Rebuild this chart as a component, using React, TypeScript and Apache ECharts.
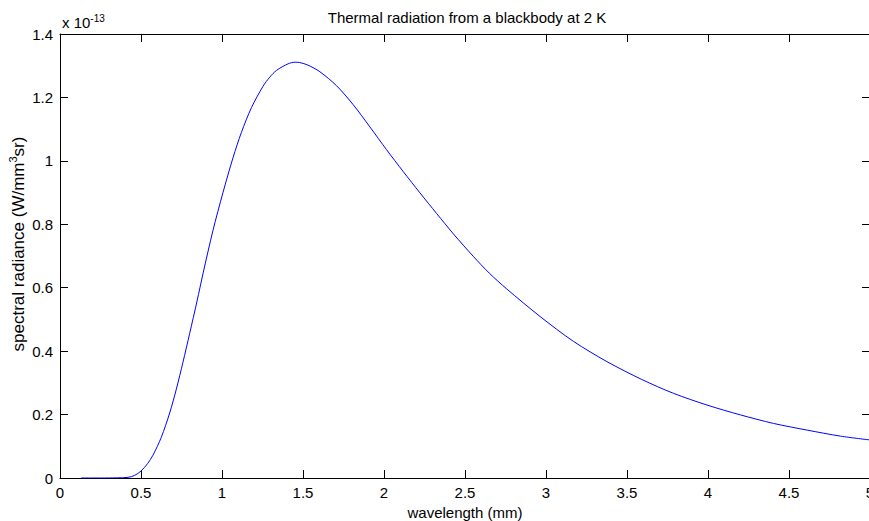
import React, { useEffect, useRef } from "react";
import * as echarts from "echarts";

const wavelengthMm = [
  0.13, 0.25, 0.35, 0.42, 0.46, 0.5, 0.54, 0.574, 0.625, 0.677, 0.718, 0.759,
  0.8, 0.846, 0.883, 0.944, 1.006, 1.068, 1.12, 1.182, 1.253, 1.295, 1.336,
  1.408, 1.45, 1.48, 1.53, 1.604, 1.707, 1.81, 1.913, 2.016, 2.119, 2.222,
  2.325, 2.428, 2.551, 2.65, 2.758, 2.964, 3.169, 3.376, 3.59, 3.787, 3.994,
  4.2, 4.405, 4.612, 4.818, 5.0,
];
// spectral radiance, in units of 1e-13 W/mm^3 sr
const radiance = [
  0, 0, 0.0005, 0.002, 0.008, 0.022, 0.045, 0.072, 0.128, 0.205, 0.28, 0.365,
  0.455, 0.558, 0.645, 0.78, 0.9, 1.01, 1.09, 1.168, 1.235, 1.264, 1.285,
  1.306, 1.311, 1.31, 1.302, 1.281, 1.237, 1.177, 1.107, 1.035, 0.966, 0.899,
  0.834, 0.77, 0.699, 0.646, 0.596, 0.509, 0.431, 0.367, 0.311, 0.267, 0.23,
  0.199, 0.172, 0.151, 0.132, 0.12,
];
const xTicks = { min: 0, max: 5, interval: 0.5 };
const yTicks = { min: 0, max: 1.4, interval: 0.2 };
const exponent = "-13";

const TITLE = "Thermal radiation from a blackbody at 2 K";
const X_NAME = "wavelength (mm)";
const Y_NAME = "spectral radiance (W/mm{sup|3}sr)";
const FONT = "'Liberation Sans', Arial, sans-serif";
const FS = 15;

export default function App() {
  const ref = useRef<HTMLDivElement>(null);
  useEffect(() => {
    if (!ref.current) return;
    const chart = echarts.init(ref.current, undefined, { renderer: "svg" });
    const axisLine = { show: true, onZero: false, lineStyle: { color: "#000", width: 1 } };
    const tick = { show: true, inside: true, length: 8, lineStyle: { color: "#000" } };
    const label = { color: "#000", fontSize: FS, fontFamily: FONT };
    const sup = { fontSize: 10, verticalAlign: "top", padding: [0, 0, 9, 0], color: "#000", fontFamily: FONT };
    chart.setOption({
      animation: false,
      backgroundColor: "#fff",
      title: [
        {
          text: TITLE,
          left: 462,
          top: 5,
          textAlign: "center",
          textStyle: { fontSize: FS, fontWeight: "normal", color: "#000", fontFamily: FONT },
        },
        {
          text: "x 10{sup|" + exponent + "}",
          left: 57,
          top: 8,
          textStyle: {
            fontSize: FS,
            fontWeight: "normal",
            color: "#000",
            fontFamily: FONT,
            rich: { sup },
          },
        },
      ],
      graphic: [
        {
          type: "text",
          x: 18,
          y: 244,
          rotation: Math.PI / 2,
          style: {
            text: Y_NAME,
            align: "center",
            verticalAlign: "middle",
            fill: "#000",
            fontSize: 17,
            fontFamily: FONT,
            rich: { sup: { ...sup, fontSize: 11, padding: [0, 0, 10, 0] } },
          },
        },
      ],
      grid: { left: 60, top: 34, right: -1, bottom: 43, outerBoundsMode: "none", containLabel: false },
      xAxis: [
        {
          type: "value",
          position: "bottom",
          ...xTicks,
          axisLine,
          axisTick: tick,
          splitLine: { show: false },
          axisLabel: { ...label, margin: 7 },
          name: X_NAME,
          nameLocation: "middle",
          nameGap: 27,
          nameTextStyle: { ...label },
        },
        {
          type: "value",
          position: "top",
          ...xTicks,
          axisLine,
          axisTick: tick,
          splitLine: { show: false },
          axisLabel: { show: false },
        },
      ],
      yAxis: [
        {
          type: "value",
          position: "left",
          ...yTicks,
          axisLine,
          axisTick: tick,
          splitLine: { show: false },
          axisLabel: { ...label, margin: 7 },
        },
        {
          type: "value",
          position: "right",
          ...yTicks,
          axisLine,
          axisTick: tick,
          splitLine: { show: false },
          axisLabel: { show: false },
        },
      ],
      series: [
        {
          type: "line",
          xAxisIndex: 0,
          yAxisIndex: 0,
          data: wavelengthMm.map((x, i) => [x, radiance[i]]),
          showSymbol: false,
          smooth: 0.3,
          lineStyle: { color: "#0000ff", width: 1 },
          clip: true,
        },
      ],
    });
    return () => chart.dispose();
  }, []);
  return (
    <div
      ref={ref}
      style={{ position: "fixed", left: 0, top: 0, width: 869, height: 521, background: "#fff" }}
    />
  );
}
